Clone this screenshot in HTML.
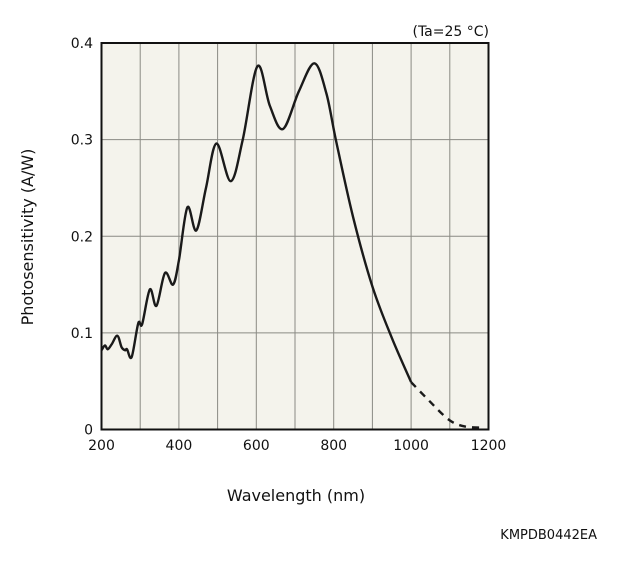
<!DOCTYPE html>
<html><head><meta charset="utf-8"><style>
body{margin:0;background:#fff;}
svg text{font-family:"DejaVu Sans","Liberation Sans",sans-serif;fill:#111;}
</style></head><body>
<svg width="625" height="570" viewBox="0 0 625 570">
<rect x="101.5" y="43" width="387" height="386.5" fill="#f4f3ec"/>
<g id="grid"></g>
<path id="curve" fill="none" stroke="#1a1a1a" stroke-width="2.4"/>
<path id="curveDash" fill="none" stroke="#1a1a1a" stroke-width="2.4" stroke-dasharray="7,6"/>
<rect x="101.5" y="43" width="387" height="386.5" fill="none" stroke="#111" stroke-width="2"/>
<g id="ticks"></g>
<text x="489" y="36" text-anchor="end" font-size="14">(Ta=25 °C)</text>
<text x="296" y="501" text-anchor="middle" font-size="16">Wavelength (nm)</text>
<text transform="translate(33,237) rotate(-90)" text-anchor="middle" font-size="16">Photosensitivity (A/W)</text>
<text x="597" y="539" text-anchor="end" font-size="13">KMPDB0442EA</text>
</svg>
<script>
const xTicks=[200,400,600,800,1000,1200];
const yTicks=[0,0.1,0.2,0.3,0.4];
const yTickLabels=["0","0.1","0.2","0.3","0.4"];
const wavelengths=[200,209,216,226,241,252,261,266,278,295,305,325,342,364,385,400,422,445,470,497,534,565,603,635,669,710,750,781,806,850,900,950,1000];
const sensitivity=[0.082,0.087,0.083,0.088,0.097,0.085,0.082,0.083,0.075,0.110,0.109,0.145,0.128,0.162,0.150,0.175,0.230,0.206,0.250,0.296,0.257,0.300,0.376,0.335,0.311,0.350,0.379,0.348,0.299,0.220,0.148,0.095,0.049];
const dashWavelengths=[1000,1046,1098,1140,1190];
const dashSensitivity=[0.049,0.030,0.010,0.003,0.002];
const X0=101.5,X1=488.5,Y0=429.5,Y1=43;
const xs=v=>X0+(v-200)/1000*(X1-X0);
const ys=v=>Y0-v/0.4*(Y0-Y1);
const NS="http://www.w3.org/2000/svg";
const grid=document.getElementById('grid'),ticks=document.getElementById('ticks');
for(let w=300;w<1200;w+=100){
 const l=document.createElementNS(NS,'line');
 l.setAttribute('x1',xs(w));l.setAttribute('x2',xs(w));l.setAttribute('y1',Y1);l.setAttribute('y2',Y0);
 l.setAttribute('stroke','#8a8a84');l.setAttribute('stroke-width','1');
 
 
 grid.appendChild(l);
}
for(const v of [0.1,0.2,0.3]){
 const l=document.createElementNS(NS,'line');
 l.setAttribute('x1',X0);l.setAttribute('x2',X1);l.setAttribute('y1',ys(v));l.setAttribute('y2',ys(v));
 l.setAttribute('stroke','#8a8a84');l.setAttribute('stroke-width','1');
 
 
 grid.appendChild(l);
}
xTicks.forEach(t=>{
 const tx=document.createElementNS(NS,'text');
 tx.setAttribute('x',xs(t));tx.setAttribute('y',450);tx.setAttribute('text-anchor','middle');tx.setAttribute('font-size','14');
 tx.textContent=t;
 
 
 ticks.appendChild(tx);
});
yTicks.forEach((t,i)=>{
 const tx=document.createElementNS(NS,'text');
 tx.setAttribute('x',93);tx.setAttribute('y',ys(t)+5);tx.setAttribute('text-anchor','end');tx.setAttribute('font-size','14');
 tx.textContent=yTickLabels[i];
 
 
 ticks.appendChild(tx);
});
function smooth(xa,ya){
 const p=xa.map((x,i)=>[xs(x),ys(ya[i])]);
 let d='M'+p[0][0]+','+p[0][1];
 for(let i=0;i<p.length-1;i++){
  const a=p[Math.max(i-1,0)],b=p[i],c=p[i+1],e=p[Math.min(i+2,p.length-1)];
  const c1=[b[0]+(c[0]-a[0])/6,b[1]+(c[1]-a[1])/6],c2=[c[0]-(e[0]-b[0])/6,c[1]-(e[1]-b[1])/6];
  d+=' C'+c1+' '+c2+' '+c;
 }
 return d;
}
document.getElementById('curve').setAttribute('d',smooth(wavelengths,sensitivity));
document.getElementById('curveDash').setAttribute('d',smooth(dashWavelengths,dashSensitivity));
</script>
</body></html>
